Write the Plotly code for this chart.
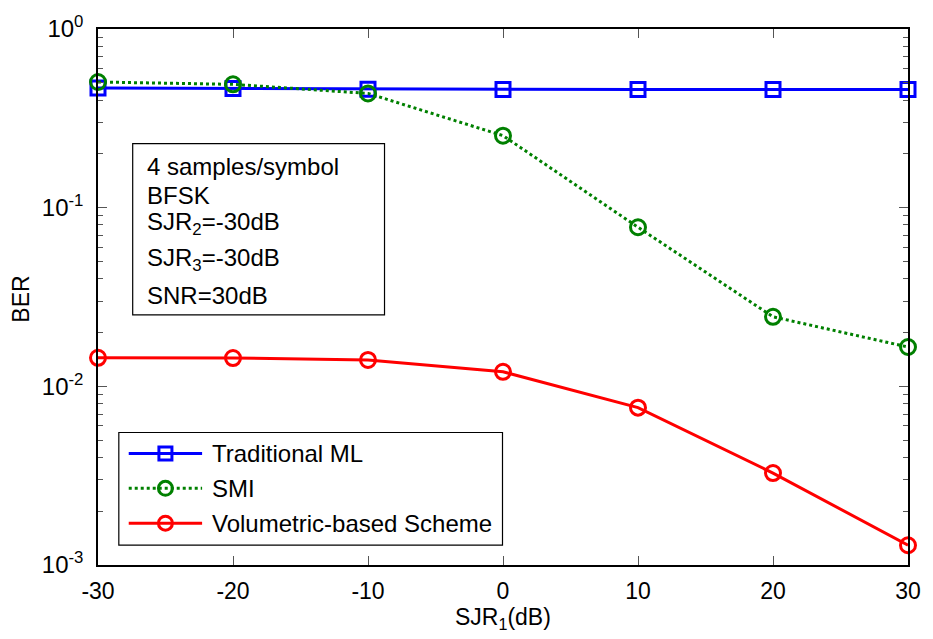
import plotly.graph_objects as go

# SJR_1 sweep (dB) and measured bit error rates
sjr1 = [-30, -20, -10, 0, 10, 20, 30]
ber_ml = [0.468, 0.465, 0.46, 0.458, 0.458, 0.458, 0.458]
ber_smi = [0.505, 0.49, 0.436, 0.253, 0.0777, 0.0245, 0.0166]
ber_vol = [0.01445, 0.0144, 0.01406, 0.01206, 0.0076, 0.00327, 0.00129]

series_names = ["Traditional ML", "SMI", "Volumetric-based Scheme"]
x_ticks = [-30, -20, -10, 0, 10, 20, 30]
x_ticktext = ["-30", "-20", "-10", "0", "10", "20", "30"]
y_ticks = [1e-3, 1e-2, 1e-1, 1]
y_ticktext = ["10<sup>-3</sup>", "10<sup>-2</sup>", "10<sup>-1</sup>", "10<sup>0</sup>"]
info_lines = ["4 samples/symbol", "BFSK", "SJR<sub>2</sub>=-30dB",
              "SJR<sub>3</sub>=-30dB", "SNR=30dB"]

FONT = "Liberation Sans, Arial, sans-serif"
FS = 23
W, H = 933, 639
L, R, T, B = 98, 18, 27, 74
PW, PH = W - L - R, H - T - B


def px(x):
    """figure pixel x -> paper fraction"""
    return (x - L) / PW


def py(y):
    """figure pixel y (from top) -> paper fraction"""
    return (H - B - y) / PH


styles = [
    dict(color="#0000FF", dash="solid", symbol="square-open", size=14),
    dict(color="#008000", dash="dot", symbol="circle-open", size=15),
    dict(color="#FF0000", dash="solid", symbol="circle-open", size=15),
]

fig = go.Figure()
for name, ys, st in zip(series_names, [ber_ml, ber_smi, ber_vol], styles):
    fig.add_trace(go.Scatter(
        x=sjr1, y=ys, name=name, mode="lines+markers", cliponaxis=False,
        line=dict(color=st["color"], width=3, dash=st["dash"]),
        marker=dict(symbol=st["symbol"], size=st["size"], color=st["color"],
                    line=dict(color=st["color"], width=3)),
        showlegend=False,
    ))

# minor ticks for the log axis (2..9 in each decade)
minor_vals = [m * 10 ** e for e in (-3, -2, -1) for m in range(2, 10)]

fig.update_layout(
    width=W, height=H,
    margin=dict(l=L, r=R, t=T, b=B, pad=0),
    paper_bgcolor="white", plot_bgcolor="white",
    font=dict(family=FONT, size=FS, color="black"),
    xaxis=dict(
        range=[-30, 30], tickvals=x_ticks, ticktext=x_ticktext, ticks="inside",
        ticklen=9, tickcolor="#555", tickwidth=1, showline=True,
        linecolor="black", linewidth=1.5, mirror="allticks", showgrid=False,
        zeroline=False, ticklabelstandoff=5, tickfont=dict(size=FS),
    ),
    yaxis=dict(
        type="log", range=[-3, 0], tickvals=y_ticks, ticktext=y_ticktext,
        ticks="inside", ticklen=9, tickcolor="#555", tickwidth=1,
        showline=True, linecolor="black", linewidth=1.5, mirror="allticks",
        showgrid=False, zeroline=False, ticklabelstandoff=8,
        tickfont=dict(size=FS + 1),
        minor=dict(tickvals=minor_vals, ticks="inside", ticklen=5,
                   tickcolor="#555", tickwidth=1, showgrid=False),
    ),
    # overlay axes in pixel units of the figure, used for the legend and notes
    xaxis2=dict(overlaying="x", range=[L, W - R], visible=False, fixedrange=True),
    yaxis2=dict(overlaying="y", range=[H - B, T], visible=False, fixedrange=True),
    showlegend=False,
)

# legend box
lx0, ly0, lx1, ly1 = 119, 432, 506, 545
fig.add_shape(type="rect", xref="x2", yref="y2", x0=lx0, y0=ly0, x1=lx1, y1=ly1,
              line=dict(color="black", width=1.2), fillcolor="white", layer="below")
entry_y = [453, 488, 523]
for name, st, ey in zip(series_names, styles, entry_y):
    fig.add_trace(go.Scatter(
        x=[129, 203], y=[ey, ey], xaxis="x2", yaxis="y2", mode="lines",
        line=dict(color=st["color"], width=3, dash=st["dash"]),
        showlegend=False, hoverinfo="skip", cliponaxis=False,
    ))
    fig.add_trace(go.Scatter(
        x=[166], y=[ey], xaxis="x2", yaxis="y2", mode="markers",
        marker=dict(symbol=st["symbol"], size=st["size"] - 1, color=st["color"],
                    line=dict(color=st["color"], width=3)),
        showlegend=False, hoverinfo="skip", cliponaxis=False,
    ))
    fig.add_annotation(x=px(211), y=py(ey), xref="paper", yref="paper", text=name,
                       showarrow=False, xanchor="left", yanchor="middle",
                       font=dict(size=24))

# simulation parameters box
fig.add_shape(type="rect", xref="x2", yref="y2", x0=133, y0=142, x1=387, y1=314,
              line=dict(color="black", width=1.2), fillcolor="white", layer="below")
info_y = [165, 194, 222, 258, 294]
for txt, iy in zip(info_lines, info_y):
    fig.add_annotation(x=px(145), y=py(iy), xref="paper", yref="paper", text=txt,
                       showarrow=False, xanchor="left", yanchor="middle",
                       font=dict(size=24))

# axis titles
fig.add_annotation(x=0.5, y=py(619), xref="paper", yref="paper",
                   text="SJR<sub>1</sub>(dB)", showarrow=False,
                   xanchor="center", yanchor="middle", font=dict(size=FS))
fig.add_annotation(x=px(20), y=py(298), xref="paper", yref="paper", text="BER",
                   textangle=-90, showarrow=False, xanchor="center",
                   yanchor="middle", font=dict(size=FS))

fig.write_html("out.html")
